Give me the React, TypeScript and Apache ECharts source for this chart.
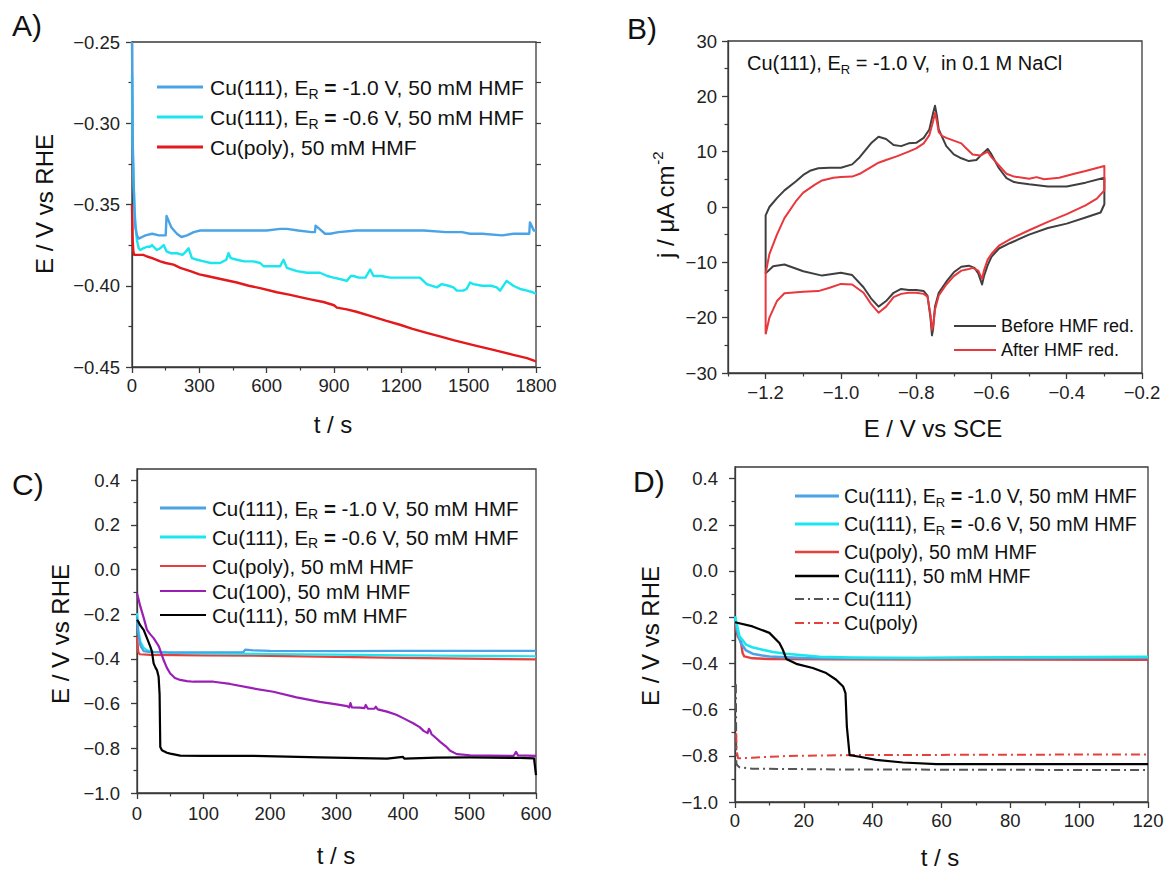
import React, { useEffect, useRef } from 'react';
import * as echarts from 'echarts';

const FONT = '"Liberation Sans", Arial, Helvetica, sans-serif';
const AX = '#3a3a3a';
const MINUS = '\u2212';

// ---------- colours ----------
const C_BLUE = '#4aa3e6';
const C_CYAN = '#19e6ef';
const C_RED_A = '#e3191c';
const C_RED = '#e5403c';
const C_PURPLE = '#9a1fb5';
const C_BLACK = '#000000';
const C_GRAY = '#555555';
const C_BEFORE = '#3f3f3f';
const C_AFTER = '#e8383d';

// ---------- Panel A : t / s vs E / V ----------
const aBlue: [number, number][] = [
  [0, -0.25], [4, -0.319], [10, -0.352], [15, -0.364], [22, -0.369], [30, -0.371], [45, -0.37], [60, -0.369],
  [90, -0.368], [120, -0.369], [150, -0.369], [154, -0.357], [160, -0.359], [175, -0.364], [200, -0.368],
  [220, -0.37], [245, -0.369], [275, -0.367], [304, -0.366], [400, -0.366], [500, -0.366], [600, -0.366],
  [660, -0.365], [690, -0.365], [740, -0.366], [800, -0.367], [815, -0.367], [818, -0.363], [835, -0.365],
  [860, -0.368], [883, -0.368], [920, -0.367], [1000, -0.366], [1100, -0.366], [1200, -0.366], [1300, -0.366],
  [1400, -0.367], [1470, -0.367], [1506, -0.368], [1560, -0.368], [1650, -0.369], [1700, -0.368],
  [1770, -0.368], [1773, -0.361], [1780, -0.363], [1790, -0.366], [1800, -0.366],
];
const aCyan: [number, number][] = [
  [0, -0.27], [3, -0.31], [7, -0.335], [14, -0.36], [22, -0.372], [30, -0.377], [37, -0.378], [50, -0.377],
  [67, -0.376], [80, -0.376], [89, -0.375], [110, -0.378], [125, -0.377], [141, -0.375], [155, -0.379],
  [175, -0.38], [200, -0.38], [225, -0.381], [240, -0.379], [252, -0.377], [267, -0.383], [290, -0.384],
  [320, -0.385], [350, -0.386], [393, -0.386], [420, -0.384], [430, -0.38], [440, -0.383], [467, -0.384],
  [500, -0.385], [540, -0.385], [571, -0.386], [586, -0.388], [620, -0.388], [660, -0.388], [675, -0.384],
  [690, -0.389], [735, -0.391], [780, -0.392], [838, -0.392], [870, -0.394], [898, -0.395], [930, -0.396],
  [957, -0.397], [975, -0.394], [987, -0.394], [1010, -0.395], [1040, -0.395], [1061, -0.39], [1076, -0.394],
  [1110, -0.394], [1150, -0.395], [1200, -0.395], [1250, -0.395], [1283, -0.395], [1313, -0.399],
  [1358, -0.401], [1380, -0.399], [1410, -0.4], [1432, -0.401], [1447, -0.403], [1476, -0.403], [1491, -0.402],
  [1506, -0.398], [1521, -0.399], [1560, -0.4], [1600, -0.4], [1625, -0.401], [1640, -0.403], [1669, -0.397],
  [1699, -0.4], [1730, -0.402], [1760, -0.403], [1785, -0.404], [1800, -0.405],
];
const aRed: [number, number][] = [
  [0, -0.35], [3, -0.372], [6, -0.379], [10, -0.381], [30, -0.381], [50, -0.381], [67, -0.382], [90, -0.383],
  [126, -0.385], [150, -0.386], [185, -0.387], [215, -0.389], [260, -0.391], [300, -0.393], [334, -0.394],
  [400, -0.396], [467, -0.398], [520, -0.4], [571, -0.4015], [645, -0.404], [700, -0.4055], [749, -0.407],
  [800, -0.4085], [853, -0.41], [900, -0.412], [913, -0.4135], [957, -0.4145], [1000, -0.416], [1061, -0.4185],
  [1130, -0.4215], [1194, -0.424], [1250, -0.4265], [1313, -0.429], [1380, -0.4315], [1432, -0.4335],
  [1521, -0.4365], [1610, -0.4395], [1699, -0.4425], [1760, -0.4445], [1800, -0.4465],
];
const aXMajor = [0, 300, 600, 900, 1200, 1500, 1800];
const aXMinor = [150, 450, 750, 1050, 1350, 1650];
const aYMajor = [-0.45, -0.4, -0.35, -0.3, -0.25];
const aYMinor = [-0.425, -0.375, -0.325, -0.275];

// ---------- Panel B : cyclic voltammograms ----------
const bBefore: [number, number][] = [
  [-1.2, -12.0], [-1.2, -1.5], [-1.19, 0], [-1.17, 1.6], [-1.15, 3], [-1.12, 4.6], [-1.1, 5.8], [-1.08, 6.6],
  [-1.06, 7.0], [-1.03, 7.1], [-1.0, 7.1], [-0.97, 7.7], [-0.95, 9.0], [-0.92, 11.5], [-0.9, 12.7], [-0.88, 12.3],
  [-0.86, 11.2], [-0.84, 11.0], [-0.82, 11.5], [-0.8, 11.6], [-0.78, 12.5], [-0.765, 14], [-0.755, 17],
  [-0.75, 18.3], [-0.745, 16.5], [-0.74, 14], [-0.73, 12.5], [-0.72, 11], [-0.7, 9.5], [-0.68, 8.8],
  [-0.66, 8.3], [-0.64, 8.5], [-0.63, 9.2], [-0.61, 10.5], [-0.6, 9.5], [-0.58, 7], [-0.56, 5.2], [-0.54, 4.5],
  [-0.5, 4.1], [-0.45, 3.7], [-0.4, 3.7], [-0.35, 4.4], [-0.3, 5.3], [-0.3, 0.5], [-0.31, -1.0], [-0.35, -1.9],
  [-0.4, -3.0], [-0.45, -3.8], [-0.5, -5.0], [-0.55, -6.5], [-0.58, -7.5], [-0.6, -9.0], [-0.61, -10.5],
  [-0.62, -12.5], [-0.625, -14], [-0.635, -12], [-0.645, -11], [-0.66, -10.6], [-0.68, -10.8], [-0.7, -11.8],
  [-0.72, -13.5], [-0.74, -15.5], [-0.75, -18], [-0.755, -22], [-0.758, -23.2], [-0.762, -20], [-0.77, -16],
  [-0.78, -15.2], [-0.8, -15.0], [-0.82, -15.0], [-0.84, -14.8], [-0.86, -15.5], [-0.88, -17], [-0.9, -18],
  [-0.92, -16.5], [-0.94, -14.5], [-0.97, -12.3], [-1.0, -11.9], [-1.05, -12.4], [-1.1, -11.6], [-1.15, -10.4],
  [-1.18, -10.7], [-1.2, -12.0],
];
const bAfter: [number, number][] = [
  [-1.2, -23.0], [-1.2, -12], [-1.19, -8.5], [-1.17, -5], [-1.15, -2], [-1.12, 1.0], [-1.1, 2.6], [-1.07, 4.0],
  [-1.05, 4.8], [-1.02, 5.3], [-1.0, 5.4], [-0.97, 5.5], [-0.95, 6.0], [-0.92, 7.2], [-0.9, 8.0], [-0.88, 8.5],
  [-0.85, 9.2], [-0.82, 10.0], [-0.8, 10.6], [-0.78, 11.5], [-0.765, 13], [-0.755, 15.5], [-0.75, 17],
  [-0.745, 15.5], [-0.74, 13.5], [-0.73, 12.8], [-0.72, 12.5], [-0.7, 12.0], [-0.68, 11.5], [-0.67, 10.8],
  [-0.65, 9.5], [-0.63, 9.3], [-0.61, 10.0], [-0.6, 9.0], [-0.58, 7.5], [-0.56, 6.0], [-0.54, 5.5], [-0.5, 5.1],
  [-0.48, 5.4], [-0.46, 5.0], [-0.42, 5.3], [-0.38, 6.0], [-0.35, 6.5], [-0.3, 7.4], [-0.3, 3.0], [-0.32, 1.5],
  [-0.35, 0.3], [-0.4, -1.3], [-0.45, -2.7], [-0.5, -4.2], [-0.55, -5.8], [-0.58, -7.0], [-0.6, -8.5],
  [-0.61, -9.5], [-0.62, -11.5], [-0.625, -13.0], [-0.635, -11.5], [-0.65, -11.0], [-0.66, -11.2], [-0.68, -11.5],
  [-0.7, -12.5], [-0.72, -14], [-0.74, -16], [-0.75, -18.5], [-0.755, -21.5], [-0.758, -22.2], [-0.762, -19.5],
  [-0.77, -16.2], [-0.78, -15.7], [-0.8, -15.5], [-0.82, -15.5], [-0.84, -15.7], [-0.86, -16.3], [-0.88, -18.0],
  [-0.9, -19.1], [-0.92, -17.5], [-0.94, -15.5], [-0.97, -14.0], [-1.0, -13.9], [-1.03, -14.6], [-1.06, -15.2],
  [-1.1, -15.3], [-1.15, -15.6], [-1.17, -17.0], [-1.19, -20.0], [-1.2, -23.0],
];
const bXMajor = [-1.2, -1.0, -0.8, -0.6, -0.4, -0.2];
const bXMinor = [-1.3, -1.1, -0.9, -0.7, -0.5, -0.3];
const bYMajor = [-30, -20, -10, 0, 10, 20, 30];
const bYMinor = [-25, -15, -5, 5, 15, 25];

// ---------- Panel C : 0 - 600 s ----------
const cBlue: [number, number][] = [
  [0, -0.21], [2, -0.29], [5, -0.34], [10, -0.365], [20, -0.37], [50, -0.371], [100, -0.37], [160, -0.369],
  [163, -0.358], [175, -0.362], [200, -0.364], [300, -0.365], [400, -0.364], [500, -0.364], [600, -0.364],
];
const cCyan: [number, number][] = [
  [0, -0.195], [2, -0.27], [5, -0.322], [10, -0.35], [15, -0.362], [25, -0.368], [50, -0.373], [100, -0.375],
  [200, -0.378], [300, -0.381], [400, -0.384], [500, -0.386], [600, -0.388],
];
const cRed: [number, number][] = [
  [0, -0.3], [2, -0.37], [4, -0.379], [20, -0.382], [100, -0.384], [200, -0.386], [275, -0.39], [400, -0.395],
  [526, -0.4], [600, -0.402],
];
const cPurple: [number, number][] = [
  [0, -0.106], [2, -0.13], [5, -0.165], [10, -0.215], [15, -0.27], [20, -0.29], [25, -0.307], [30, -0.33],
  [33, -0.345], [37, -0.38], [40, -0.405], [45, -0.44], [50, -0.465], [57, -0.485], [65, -0.494], [75, -0.499],
  [85, -0.502], [115, -0.502], [140, -0.512], [175, -0.532], [205, -0.547], [240, -0.572], [275, -0.592],
  [300, -0.603], [316, -0.611], [319, -0.617], [321, -0.598], [323, -0.617], [335, -0.618], [342, -0.62],
  [344, -0.606], [347, -0.622], [357, -0.623], [359, -0.614], [362, -0.626], [376, -0.636], [390, -0.65],
  [401, -0.666], [416, -0.689], [425, -0.705], [431, -0.722], [437, -0.732], [439, -0.713], [441, -0.722],
  [443, -0.737], [450, -0.755], [456, -0.771], [464, -0.79], [471, -0.811], [481, -0.826], [501, -0.831],
  [530, -0.833], [566, -0.834], [568, -0.826], [570, -0.816], [573, -0.832], [600, -0.834],
];
const cBlack: [number, number][] = [
  [0, -0.225], [2, -0.233], [5, -0.25], [10, -0.27], [15, -0.307], [20, -0.345], [22.5, -0.367], [25, -0.42],
  [28, -0.44], [30, -0.45], [32.5, -0.48], [34, -0.56], [35, -0.794], [37.5, -0.809], [45, -0.82], [50, -0.824],
  [65, -0.833], [100, -0.834], [175, -0.834], [275, -0.841], [376, -0.846], [400, -0.838], [402, -0.846],
  [450, -0.842], [500, -0.841], [576, -0.843], [597, -0.845], [598, -0.87], [600, -0.92],
];
const cXMajor = [0, 100, 200, 300, 400, 500, 600];
const cXMinor = [50, 150, 250, 350, 450, 550];
const eYMajor = [-1.0, -0.8, -0.6, -0.4, -0.2, 0.0, 0.2, 0.4];
const eYMinor = [-0.9, -0.7, -0.5, -0.3, -0.1, 0.1, 0.3];

// ---------- Panel D : 0 - 120 s ----------
const dBlue: [number, number][] = [
  [0, -0.203], [0.8, -0.268], [1.7, -0.312], [3.2, -0.344], [5.1, -0.358], [7.5, -0.365], [10, -0.37],
  [14.9, -0.374], [20, -0.377], [25, -0.378], [40, -0.378], [60, -0.377], [90, -0.376], [120, -0.375],
];
const dCyan: [number, number][] = [
  [0, -0.196], [1.3, -0.283], [3.2, -0.319], [5, -0.33], [7.1, -0.338], [11, -0.351], [14.9, -0.358],
  [19.7, -0.365], [24.6, -0.371], [34, -0.375], [54, -0.377], [80, -0.374], [120, -0.371],
];
const dRed: [number, number][] = [
  [0, -0.232], [0.8, -0.283], [1.7, -0.305], [2.2, -0.355], [2.7, -0.37], [5.1, -0.378], [10, -0.381],
  [30, -0.382], [60, -0.383], [120, -0.384],
];
const dBlack: [number, number][] = [
  [0, -0.222], [5.1, -0.24], [10, -0.268], [12.9, -0.312], [13.9, -0.341], [14.9, -0.381], [17.8, -0.402],
  [22.6, -0.42], [26.5, -0.442], [29.4, -0.471], [31.4, -0.5], [32.1, -0.529], [32.5, -0.674], [33.3, -0.797],
  [36.2, -0.804], [41, -0.818], [48.8, -0.829], [58.5, -0.836], [120, -0.836],
];
const dGrayRef: [number, number][] = [
  [0.25, -0.49], [0.3, -0.6], [0.35, -0.75], [0.4, -0.833], [0.7, -0.842], [1.3, -0.85], [5.1, -0.856],
  [30, -0.859], [60, -0.86], [120, -0.862],
];
const dRedRef: [number, number][] = [
  [0.35, -0.703], [0.45, -0.775], [0.9, -0.811], [5, -0.808], [15, -0.801], [34, -0.797], [120, -0.794],
];
const dXMajor = [0, 20, 40, 60, 80, 100, 120];
const dXMinor = [10, 30, 50, 70, 90, 110];

// ---------- legend texts ----------
const LG_R10 = '{n|Cu(111), E}{s|R}{b| =}{n| -1.0 V, 50 mM HMF}';
const LG_R06 = '{n|Cu(111), E}{s|R}{b| =}{n| -0.6 V, 50 mM HMF}';
const LG_POLY = '{n|Cu(poly), 50 mM HMF}';
const LG_100 = '{n|Cu(100), 50 mM HMF}';
const LG_111 = '{n|Cu(111), 50 mM HMF}';
const LG_111REF = '{n|Cu(111)}';
const LG_POLYREF = '{n|Cu(poly)}';

const DASHDOT = [9, 4, 2, 4];

function fmtNum(d: number) {
  return (v: number) => {
    const s = Math.abs(v) < 1e-9 ? (0).toFixed(d) : Math.abs(v).toFixed(d);
    return v < -1e-9 ? MINUS + s : s;
  };
}

function buildOption() {
  const grids = [
    { left: 132, top: 42, width: 404, height: 325 },
    { left: 728, top: 41, width: 414, height: 332 },
    { left: 137, top: 469, width: 399, height: 324 },
    { left: 735, top: 467, width: 413, height: 335 },
  ].map((g) => ({ ...g, show: true, borderColor: AX, borderWidth: 1.3, backgroundColor: 'transparent' }));

  const xAxes: any[] = [];
  const yAxes: any[] = [];

  const major = (grid: number, min: number, max: number, vals: number[], fmt: any, pos: string, margin: number) => ({
    gridIndex: grid, type: 'value', min, max, position: pos,
    axisLine: { show: true, onZero: false, lineStyle: { color: AX, width: 1.3 } },
    axisTick: { show: true, inside: false, length: 6, lineStyle: { color: AX, width: 1.3 }, customValues: vals },
    axisLabel: { show: true, customValues: vals, formatter: fmt, margin, fontSize: 18.5, color: '#222', fontFamily: FONT },
    splitLine: { show: false }, minorTick: { show: false },
  });
  const minor = (grid: number, min: number, max: number, vals: number[], pos: string, len = 3.5) => ({
    gridIndex: grid, type: 'value', min, max, position: pos,
    axisLine: { show: false, onZero: false },
    axisTick: { show: true, inside: false, length: len, lineStyle: { color: AX, width: 1.2 }, customValues: vals },
    axisLabel: { show: false }, splitLine: { show: false },
  });

  const panel = (grid: number, xr: [number, number], yr: [number, number], xM: number[], xm: number[], yM: number[], ym: number[], xf: any, yf: any, xMargin: number, yMargin: number) => {
    const xi = xAxes.length;
    xAxes.push(major(grid, xr[0], xr[1], xM, xf, 'bottom', xMargin));
    xAxes.push(minor(grid, xr[0], xr[1], xm, 'bottom'));
    const yi = yAxes.length;
    yAxes.push(major(grid, yr[0], yr[1], yM, yf, 'left', yMargin));
    yAxes.push(minor(grid, yr[0], yr[1], ym, 'left'));
    return { xi, yi };
  };

  const pA = panel(0, [0, 1800], [-0.45, -0.25], aXMajor, aXMinor, aYMajor, aYMinor, fmtNum(0), fmtNum(2), 9, 12);
  yAxes.push(minor(0, -0.45, -0.25, [...aYMajor, ...aYMinor], 'right', 5));
  const pB = panel(1, [-1.3, -0.2], [-30, 30], bXMajor, bXMinor, bYMajor, bYMinor, fmtNum(1), fmtNum(0), 10, 11);
  const pC = panel(2, [0, 600], [-1.0, 0.45], cXMajor, cXMinor, eYMajor, eYMinor, fmtNum(0), fmtNum(1), 11, 17);
  const pD = panel(3, [0, 120], [-1.0, 0.45], dXMajor, dXMinor, eYMajor, eYMinor, fmtNum(0), fmtNum(1), 9, 17);

  const ln = (name: string, data: [number, number][], p: { xi: number; yi: number }, color: string, width: number, dash?: any) => ({
    type: 'line', name, data, xAxisIndex: p.xi, yAxisIndex: p.yi, symbol: 'none', showSymbol: false,
    lineStyle: { color, width, type: dash || 'solid', cap: 'butt', join: 'round' }, itemStyle: { color },
    emphasis: { disabled: true }, silent: true, clip: true,
  });

  const series = [
    ln('A Cu(poly)', aRed, pA, C_RED_A, 2.4),
    ln('A ER -0.6', aCyan, pA, C_CYAN, 2.4),
    ln('A ER -1.0', aBlue, pA, C_BLUE, 2.4),
    ln('B before', bBefore, pB, C_BEFORE, 2),
    ln('B after', bAfter, pB, C_AFTER, 2),
    ln('C Cu(poly)', cRed, pC, C_RED, 2.2),
    ln('C ER -0.6', cCyan, pC, C_CYAN, 2.2),
    ln('C ER -1.0', cBlue, pC, C_BLUE, 2.2),
    ln('C Cu(100)', cPurple, pC, C_PURPLE, 2.2),
    ln('C Cu(111)', cBlack, pC, C_BLACK, 2.2),
    ln('D Cu(111) ref', dGrayRef, pD, C_GRAY, 2, DASHDOT),
    ln('D Cu(poly) ref', dRedRef, pD, C_RED, 2, DASHDOT),
    ln('D Cu(poly)', dRed, pD, C_RED, 2.4),
    ln('D ER -1.0', dBlue, pD, C_BLUE, 2.6),
    ln('D ER -0.6', dCyan, pD, C_CYAN, 2.6),
    ln('D Cu(111)', dBlack, pD, C_BLACK, 2.2),
  ];

  const rich = (fs: number) => ({
    n: { fontSize: fs, fontFamily: FONT, fill: '#111', lineHeight: fs + 6 },
    b: { fontSize: fs, fontFamily: FONT, fill: '#111', fontWeight: 'bold', lineHeight: fs + 6 },
    s: { fontSize: Math.round(fs * 0.66), fontFamily: FONT, fill: '#111', lineHeight: Math.round(fs * 0.66), verticalAlign: 'bottom' },
    p: { fontSize: Math.round(fs * 0.62), fontFamily: FONT, fill: '#111', lineHeight: Math.round(fs * 0.62), verticalAlign: 'top' },
  });

  const legend = (x0: number, x1: number, tx: number, fs: number, rows: { y: number; color: string; w: number; dash?: number[]; text: string }[]) => {
    const els: any[] = [];
    rows.forEach((r) => {
      els.push({ type: 'line', silent: true, shape: { x1: x0, y1: r.y, x2: x1, y2: r.y }, style: { stroke: r.color, lineWidth: r.w, lineDash: r.dash || null } });
      els.push({ type: 'text', silent: true, x: tx, y: r.y, style: { text: r.text, rich: rich(fs), align: 'left', verticalAlign: 'middle' } });
    });
    return els;
  };

  const label = (t: string, x: number, y: number, fs: number, rot = 0, align = 'center') => ({
    type: 'text', silent: true, x, y, rotation: rot,
    style: { text: t, rich: rich(fs), align, verticalAlign: 'middle' },
  });

  const graphic: any[] = [
    label('{n|A)}', 12, 25, 30, 0, 'left'),
    label('{n|B)}', 627, 28, 30, 0, 'left'),
    label('{n|C)}', 12, 484, 30, 0, 'left'),
    label('{n|D)}', 633, 481, 30, 0, 'left'),
    label('{n|E / V vs RHE}', 44, 204, 24, Math.PI / 2),
    label('{n|t / s}', 333, 424, 24),
    label('{n|j / \u03bcA cm}{p|-2}', 665, 205, 24, Math.PI / 2),
    label('{n|E / V vs SCE}', 933, 428, 24),
    label('{n|E / V vs RHE}', 60, 634, 24, Math.PI / 2),
    label('{n|t / s}', 336, 855, 24),
    label('{n|E / V vs RHE}', 650, 636, 24, Math.PI / 2),
    label('{n|t / s}', 940, 857, 24),
    label('{n|Cu(111), E}{s|R}{n| = -1.0 V,  in 0.1 M NaCl}', 747, 63, 20, 0, 'left'),
    ...legend(157, 203, 210, 21, [
      { y: 87, color: C_BLUE, w: 3, text: LG_R10 },
      { y: 117, color: C_CYAN, w: 3, text: LG_R06 },
      { y: 147, color: C_RED_A, w: 3, text: LG_POLY },
    ]),
    ...legend(954, 996, 1001, 18, [
      { y: 326, color: C_BEFORE, w: 2, text: '{n|Before HMF red.}' },
      { y: 350, color: C_AFTER, w: 2, text: '{n|After HMF red.}' },
    ]),
    ...legend(160, 206, 212, 20.5, [
      { y: 508, color: C_BLUE, w: 3, text: LG_R10 },
      { y: 537, color: C_CYAN, w: 3, text: LG_R06 },
      { y: 566, color: C_RED, w: 2.2, text: LG_POLY },
      { y: 591, color: C_PURPLE, w: 2.2, text: LG_100 },
      { y: 615, color: C_BLACK, w: 2.2, text: LG_111 },
    ]),
    ...legend(795, 839, 844, 19.6, [
      { y: 496, color: C_BLUE, w: 3, text: LG_R10 },
      { y: 524, color: C_CYAN, w: 3, text: LG_R06 },
      { y: 552, color: C_RED, w: 2.4, text: LG_POLY },
      { y: 576, color: C_BLACK, w: 2.4, text: LG_111 },
      { y: 599, color: C_GRAY, w: 2, dash: DASHDOT, text: LG_111REF },
      { y: 623, color: C_RED, w: 2, dash: DASHDOT, text: LG_POLYREF },
    ]),
  ];

  return {
    animation: false,
    backgroundColor: '#ffffff',
    textStyle: { fontFamily: FONT },
    grid: grids,
    xAxis: xAxes,
    yAxis: yAxes,
    series,
    graphic,
  };
}

export default function App() {
  const ref = useRef<HTMLDivElement>(null);
  useEffect(() => {
    document.body.style.margin = '0';
    const chart = echarts.init(ref.current as HTMLDivElement, null, { renderer: 'svg' });
    chart.setOption(buildOption() as any);
    return () => chart.dispose();
  }, []);
  return <div ref={ref} style={{ width: 1168, height: 870, background: '#fff' }} />;
}
